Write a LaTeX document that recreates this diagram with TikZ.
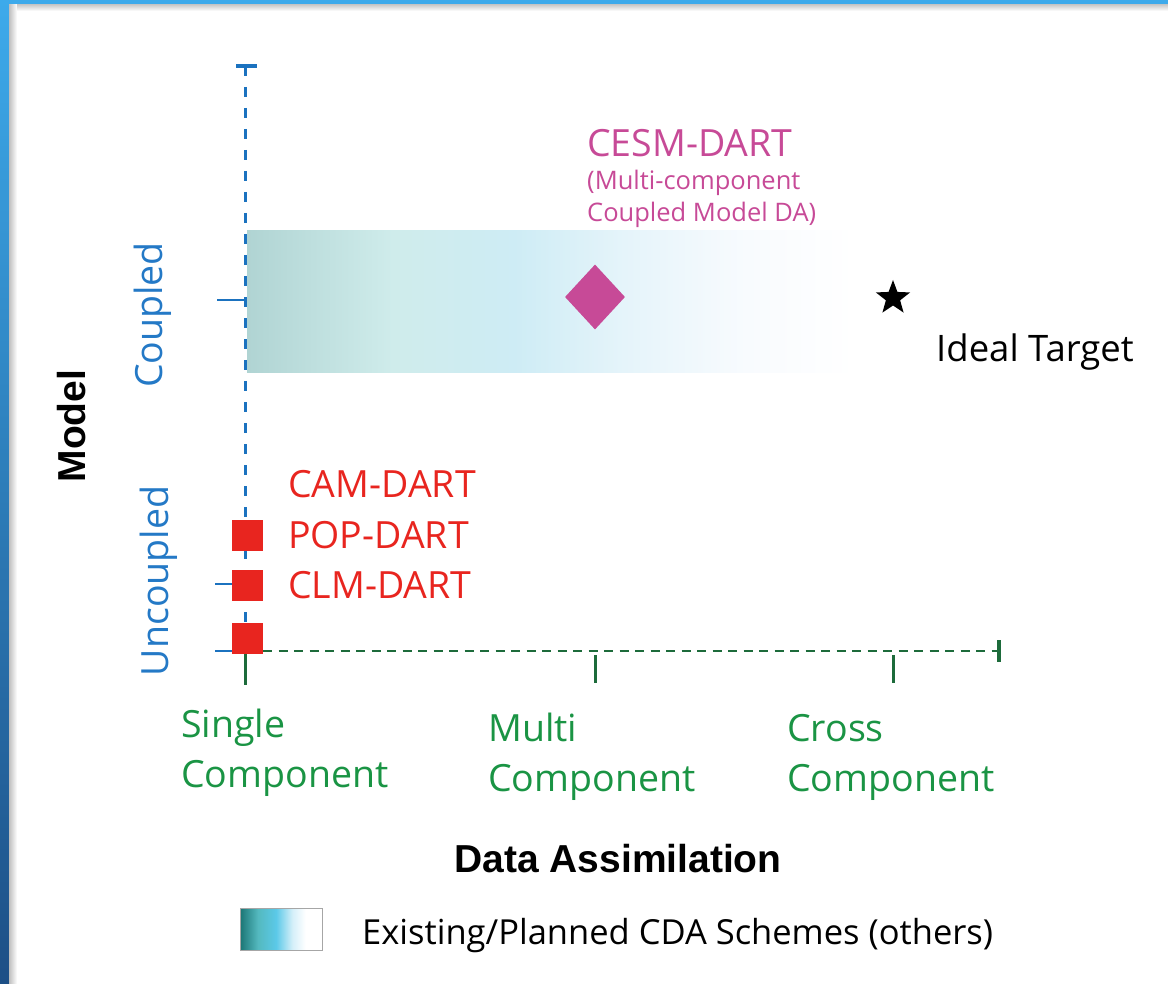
\documentclass[tikz,border=0pt]{standalone}
\usepackage{fontspec}
\setmainfont{Open Sans}
\newfontfamily\headfont{Liberation Sans}
\usepackage{xcolor}
\usetikzlibrary{shapes.geometric}

\definecolor{axblue}{HTML}{1B72BF}
\definecolor{txtblue}{HTML}{2479C6}
\definecolor{axgreen}{HTML}{1D6B3B}
\definecolor{txtgreen}{HTML}{1A9444}
\definecolor{dartred}{HTML}{E8251F}
\definecolor{cesmpink}{HTML}{C74A97}
\definecolor{frameDark}{HTML}{1D4F86}
\definecolor{frameLight}{HTML}{3DAAEB}

% stops between 25bp and 75bp cover the shaded path
\pgfdeclarehorizontalshading{bandshade}{100bp}{color(0bp)=({rgb,255:red,176;green,212;blue,211}); color(25bp)=({rgb,255:red,176;green,212;blue,211}); color(37bp)=({rgb,255:red,207;green,236;blue,235}); color(47bp)=({rgb,255:red,206;green,236;blue,245}); color(56bp)=({rgb,255:red,229;green,244;blue,250}); color(66bp)=({rgb,255:red,248;green,251;blue,254}); color(75bp)=(white); color(100bp)=(white)}
\pgfdeclarehorizontalshading{keyshade}{100bp}{color(0bp)=({rgb,255:red,27;green,117;blue,116}); color(25bp)=({rgb,255:red,27;green,117;blue,116}); color(36bp)=({rgb,255:red,84;green,185;blue,191}); color(47bp)=({rgb,255:red,91;green,201;blue,232}); color(57bp)=({rgb,255:red,213;green,239;blue,249}); color(65bp)=(white); color(100bp)=(white)}
\pgfdeclareverticalshading{frameshade}{100bp}{color(0bp)=(frameDark); color(25bp)=(frameDark); color(75bp)=(frameLight); color(100bp)=(frameLight)}

\begin{document}
\begin{tikzpicture}[x=1pt, y=-1pt, every node/.style={inner sep=0pt},
    bluelab/.style={text=txtblue, font=\fontsize{37.5}{40}\selectfont},
    greenlab/.style={text=txtgreen, font=\fontsize{37.5}{50}\selectfont, align=left},
    redlab/.style={text=dartred, font=\fontsize{37.5}{40}\selectfont},
    headlab/.style={font=\headfont\bfseries\fontsize{39}{40}\selectfont},
    marker/.style={fill=dartred, minimum size=31pt}]
    \useasboundingbox (0,0) rectangle (1168,984);

    % frame of the slide
    \shade[shading=frameshade] (0,0) rectangle (9,984);
    \fill[frameLight] (0,0) rectangle (1168,4);
    \fill[frameDark] (9,4) rectangle (1168,5);
    \shade[left color=black!25, right color=white] (9,5) rectangle (17,984);
    \shade[top color=black!20, bottom color=white] (17,5) rectangle (1168,11);

    % band of existing schemes
    \shade[shading=bandshade] (247,231) rectangle (855,373);

    % axes
    \coordinate (ytop) at (245,66);
    \coordinate (ybot) at (245,651);
    \coordinate (xleft) at (263,651);
    \coordinate (xright) at (998,651);
    \draw[axblue, line width=3pt, dash pattern=on 10pt off 11pt] (ytop) -- (ybot);
    \draw[axblue, line width=3.5pt] (236,66) -- (257,66);
    \draw[axblue, line width=2.5pt] (217,300) -- (245,300);
    \draw[axblue, line width=2.5pt] (215,584) -- (245,584);
    \draw[axblue, line width=2.5pt] (215,651) -- (245,651);
    \draw[axgreen, line width=2.5pt, dash pattern=on 9pt off 6.5pt] (xleft) -- (xright);
    \draw[axgreen, line width=3pt] (245,651) -- (245,685);
    \draw[axgreen, line width=3pt] (595,655) -- (595,683);
    \draw[axgreen, line width=3pt] (893,655) -- (893,683);
    \draw[axgreen, line width=3.5pt] (999,640) -- (999,662);

    % markers
    \node[marker] (cam) at (247.5,535) {};
    \node[marker] (pop) at (247.5,585) {};
    \node[marker] (clm) at (247.5,638) {};
    \node[diamond, fill=cesmpink, minimum width=60pt, minimum height=65pt] (cesm) at (595,297) {};
    \node[star, star points=5, star point ratio=2.4, fill=black, minimum size=36pt] (ideal) at (893,298) {};

    % labels
    \node[redlab, anchor=base west] (camlab) at (288,497) {CAM-DART};
    \node[redlab, anchor=base west] (poplab) at (288,548) {POP-DART};
    \node[redlab, anchor=base west] (clmlab) at (288,598) {CLM-DART};
    \node[text=cesmpink, font=\fontsize{37.5}{40}\selectfont, anchor=base west] (cesmlab) at (587,157) {CESM-DART};
    \node[text=cesmpink, font=\fontsize{25.5}{32}\selectfont, anchor=base west, align=left] (cesmnote) at (587,222) {(Multi-component\\Coupled Model DA)};
    \node[font=\fontsize{36.5}{40}\selectfont, anchor=base west] (idealtxt) at (936,362) {Ideal Target};

    \node[greenlab, anchor=base west] (single) at (181,787) {Single\\Component};
    \node[greenlab, anchor=base west] (multi) at (488,791) {Multi\\Component};
    \node[greenlab, anchor=base west] (cross) at (787,791) {Cross\\Component};

    \node[bluelab, rotate=90, anchor=base] (coupled) at (162,315) {Coupled};
    \node[bluelab, rotate=90, anchor=base] (uncoupled) at (168,581) {Uncoupled};
    \node[headlab, rotate=90, anchor=base] (model) at (85,426) {Model};
    \node[headlab, anchor=base] (da) at (618,872) {Data Assimilation};

    % key
    \shade[shading=keyshade, draw=black!35, line width=1pt] (240,908) rectangle (322,950);
    \node[font=\fontsize{34.5}{40}\selectfont, anchor=base west] (keylab) at (362,944) {Existing/Planned CDA Schemes (others)};
\end{tikzpicture}
\end{document}
